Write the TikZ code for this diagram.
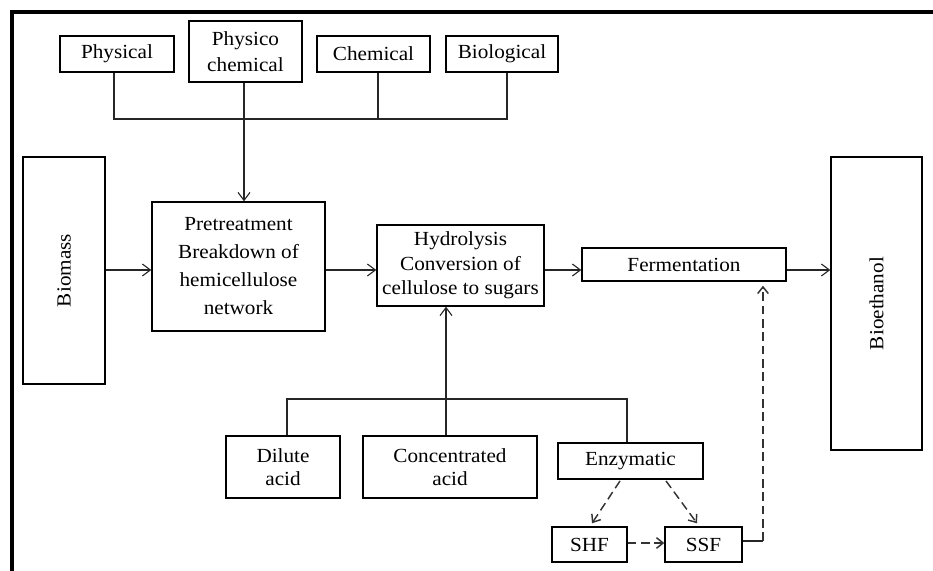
\documentclass[tikz,border=0pt]{standalone}
\usepackage{fontspec}
\setmainfont{Liberation Serif}[FakeStretch=1.06]
\usetikzlibrary{arrows.meta,calc}
\begin{document}
\begin{tikzpicture}[x=0.75pt,y=-0.75pt,
  box/.style={draw=black, line width=1.1pt, align=center, inner sep=0pt,
              font=\fontsize{15}{18.5}\selectfont},
  link/.style={line width=0.8pt, draw=black!85},
  flow/.style={link, -{Straight Barb[length=6pt,width=9pt]}},
  dflow/.style={line width=1.1pt, draw=black!80, dash pattern=on 6.5pt off 3.5pt,
                -{Straight Barb[length=5pt,width=8pt]}}]
\useasboundingbox (0,0) rectangle (933,571);

% outer frame (top and left edges only)
\draw[line width=2.4pt, line join=miter] (12,571) -- (12,12) -- (933,12);

% pretreatment methods
\node[box, minimum width=85.5pt,  minimum height=27pt]    (physical)   at (117,54)    {Physical};
\node[box, minimum width=84.75pt, minimum height=45.75pt, font=\fontsize{15}{19}\selectfont] (physico) at (245.5,51.5) {Physico\\chemical};
\node[box, minimum width=84.75pt, minimum height=27pt]    (chemical)   at (373.5,54)  {Chemical};
\node[box, minimum width=84pt,    minimum height=27pt]    (biological) at (502,54)    {Biological};

% main process chain
\node[box, minimum width=61.5pt,  minimum height=170.25pt] (biomass)  at (64,270.5)   {\rotatebox{90}{Biomass}};
\node[box, minimum width=129.75pt,minimum height=96.75pt, font=\fontsize{15}{21}\selectfont] (pretreat) at (238.5,266.5) {Pretreatment\\Breakdown of\\hemicellulose\\network};
\node[box, minimum width=125.25pt,minimum height=60.75pt] (hydro)    at (460.5,265.5) {Hydrolysis\\Conversion of\\cellulose to sugars};
\node[box, minimum width=153pt,   minimum height=24.75pt] (ferment)  at (684,264.5)   {Fermentation};
\node[box, minimum width=68.25pt, minimum height=219.75pt] (bioeth)  at (876.5,303.5) {\rotatebox{90}{Bioethanol}};

% hydrolysis methods
\node[box, minimum width=85.5pt,  minimum height=46.5pt, font=\fontsize{15}{17}\selectfont] (dilute) at (283,467) {Dilute\\acid};
\node[box, minimum width=130.5pt, minimum height=46.5pt, font=\fontsize{15}{17}\selectfont] (conc)   at (450,467) {Concentrated\\acid};
\node[box, minimum width=108.75pt,minimum height=27pt, line width=1.4pt] (enzym) at (630.5,461) {Enzymatic};
\node[box, minimum width=56.25pt, minimum height=26.25pt] (shf) at (589.5,544.5) {SHF};
\node[box, minimum width=57.75pt, minimum height=26.25pt] (ssf) at (703.5,544.5) {SSF};

% upper collector bus
\coordinate (busL) at (114,119);
\coordinate (busP) at (244,119);
\coordinate (busC) at (378,119);
\coordinate (busR) at (507,119);
\draw[link] (physical.south -| busL) -- (busL) -- (busR) -- (biological.south -| busR);
\draw[link] (chemical.south -| busC) -- (busC);
\draw[flow] (physico.south -| busP) -- (pretreat.north -| busP);

% horizontal flow
\coordinate (row) at (0,270);
\draw[flow] (biomass.east |- row) -- (pretreat.west |- row);
\draw[flow] (pretreat.east |- row) -- (hydro.west |- row);
\draw[flow] (hydro.east |- row) -- (ferment.west |- row);
\draw[flow] (ferment.east |- row) -- (bioeth.west |- row);

% lower collector bus
\coordinate (lowL) at (287,399);
\coordinate (lowM) at (446,399);
\coordinate (lowR) at (627,399);
\draw[link] (dilute.north -| lowL) -- (lowL) -- (lowR) -- (enzym.north -| lowR);
\draw[flow] (conc.north -| lowM) -- (hydro.south -| lowM);

% enzymatic routes
\draw[dflow] ($(enzym.south)+(-10.5,1)$) -- ($(shf.north)+(2.5,-3)$);
\draw[dflow] ($(enzym.south)+(35.5,1)$) -- ($(ssf.north)+(-6.5,-3)$);
\draw[dflow] ($(shf.east)+(0,-1.5)$) -- ($(ssf.west)+(0,-1.5)$);
\coordinate (turn) at (763,541);
\draw[link, line width=1.1pt] (ssf.east |- turn) -- (turn);
\draw[dflow, shorten >=3pt] (turn) -- (ferment.south -| turn);
\end{tikzpicture}
\end{document}
